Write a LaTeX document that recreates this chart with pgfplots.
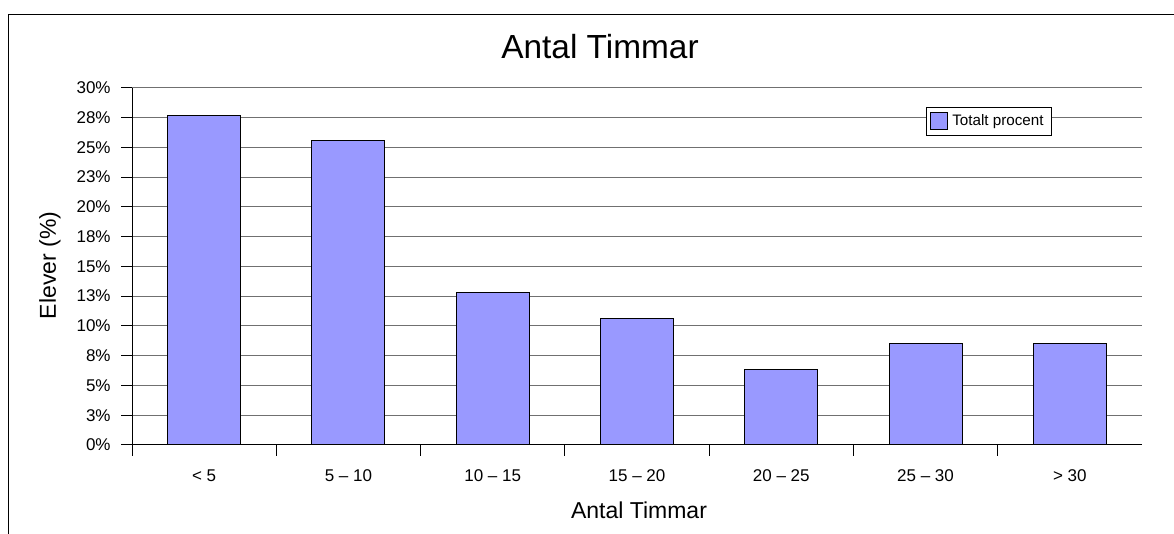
\documentclass[border=0pt]{standalone}
\usepackage{fontspec}
\setmainfont{Liberation Sans}
\usepackage{pgfplots}
\pgfplotsset{compat=1.18}
\definecolor{barfill}{HTML}{9999FF}
\definecolor{gridc}{HTML}{707070}
\begin{document}
\begin{tikzpicture}
\path[use as bounding box] (0,0) rectangle (587pt,267pt);
\draw[line width=0.5pt] (4pt,0) -- (4pt,259.5pt) -- (587pt,259.5pt);
\begin{axis}[
  at={(66pt,44.5pt)}, anchor=south west,
  scale only axis, width=505pt, height=178.65pt,
  xmin=0.5, xmax=7.5, ymin=0, ymax=30,
  axis x line*=bottom, axis y line*=left,
  axis line style={line width=0.5pt, black},
  ybar, bar width=36.5pt,
  xtick={1,...,7},
  xticklabels={< 5, 5 – 10, 10 – 15, 15 – 20, 20 – 25, 25 – 30, > 30},
  minor xtick={0.5,1.5,...,6.5},
  ytick={0,2.5,...,30},
  yticklabels={0\%,3\%,5\%,8\%,10\%,13\%,15\%,18\%,20\%,23\%,25\%,28\%,30\%},
  tick align=outside,
  major tick length=5.5pt, minor tick length=5.5pt,
  major x tick style={draw=none},
  tick style={line width=0.5pt, black},
  ymajorgrids, grid style={line width=0.5pt, gridc},
  xticklabel style={font=\fontsize{8.5}{10}\selectfont, inner sep=0pt, anchor=base, yshift=-13pt},
  yticklabel style={font=\fontsize{8.5}{10}\selectfont, inner sep=0pt, anchor=east, xshift=-5pt},
  legend style={at={(rel axis cs:0.786,0.946)}, anchor=north west, draw=black, line width=0.5pt,
    fill=white, font=\fontsize{7.6}{9}\selectfont, inner xsep=2pt, inner ysep=1.5pt,
    legend cell align=left},
  legend image code/.code={\draw[#1] (0pt,-4.25pt) rectangle (8.5pt,4.25pt);},
]
\addplot[fill=barfill, draw=black, line width=0.5pt] coordinates {
  (1,27.66) (2,25.53) (3,12.77) (4,10.64) (5,6.38) (6,8.51) (7,8.51)};
\addlegendentry{Totalt procent}
\end{axis}
\node[anchor=base, font=\fontsize{16.7}{20}\selectfont] at (300pt,237.5pt) {Antal Timmar};
\node[anchor=base, rotate=90, font=\fontsize{11.5}{14}\selectfont] at (28pt,134.25pt) {Elever (\%)};
\node[anchor=base, font=\fontsize{11.5}{14}\selectfont] at (319.5pt,7.5pt) {Antal Timmar};
\end{tikzpicture}
\end{document}
